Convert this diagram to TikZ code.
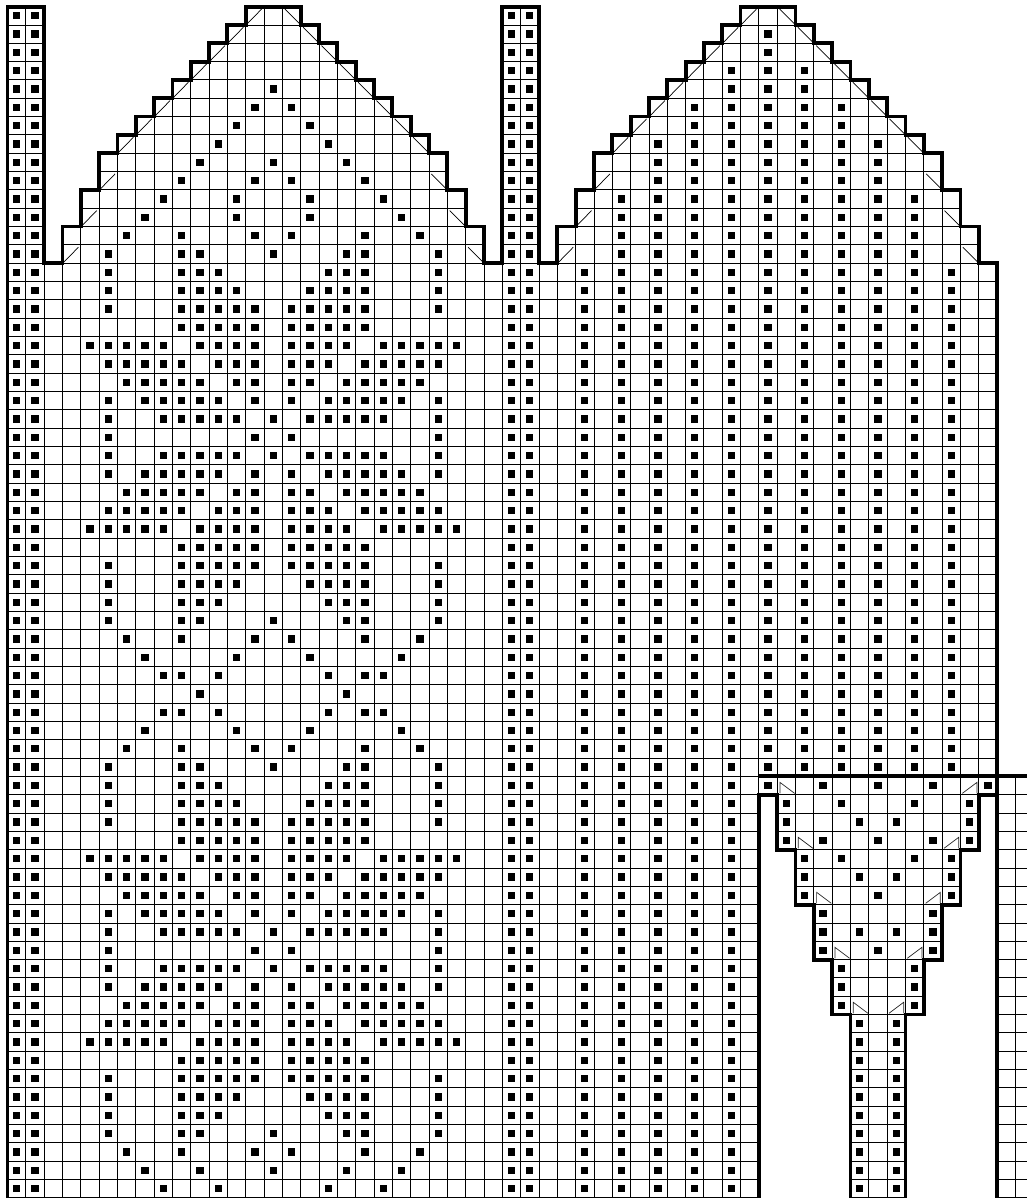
\documentclass[tikz,border=0pt]{standalone}
\usepackage{tikz}

\def\upperedge{(0,65.1) -- (0,0) -- (2,0) -- (2,14) -- (3,14) -- (3,12) -- (4,12) -- (4,10) -- (5,10) -- (5,8) -- (6,8) -- (6,7) -- (7,7) -- (7,6) -- (8,6) -- (8,5) -- (9,5) -- (9,4) -- (10,4) -- (10,3) -- (11,3) -- (11,2) -- (12,2) -- (12,1) -- (13,1) -- (13,0) -- (16,0) -- (16,1) -- (17,1) -- (17,2) -- (18,2) -- (18,3) -- (19,3) -- (19,4) -- (20,4) -- (20,5) -- (21,5) -- (21,6) -- (22,6) -- (22,7) -- (23,7) -- (23,8) -- (24,8) -- (24,10) -- (25,10) -- (25,12) -- (26,12) -- (26,14) -- (27,14) -- (27,0) -- (29,0) -- (29,14) -- (30,14) -- (30,12) -- (31,12) -- (31,10) -- (32,10) -- (32,8) -- (33,8) -- (33,7) -- (34,7) -- (34,6) -- (35,6) -- (35,5) -- (36,5) -- (36,4) -- (37,4) -- (37,3) -- (38,3) -- (38,2) -- (39,2) -- (39,1) -- (40,1) -- (40,0) -- (43,0) -- (43,1) -- (44,1) -- (44,2) -- (45,2) -- (45,3) -- (46,3) -- (46,4) -- (47,4) -- (47,5) -- (48,5) -- (48,6) -- (49,6) -- (49,7) -- (50,7) -- (50,8) -- (51,8) -- (51,10) -- (52,10) -- (52,12) -- (53,12) -- (53,14) -- (54,14) -- (54,42)}
\def\thumbright{(54,43) -- (53,43) -- (53,46) -- (52,46) -- (52,49) -- (51,49) -- (51,52) -- (50,52) -- (50,55) -- (49,55) -- (49,65.1)}

\begin{document}
\begin{tikzpicture}[
                x=0.5cm, y=-0.5cm,
                gridline/.style={line width=0.65pt},
                outline/.style={line width=3pt},
                stitch/.style={fill=black},
                slant/.style={line width=0.55pt},
                hook/.style={line width=0.55pt, draw=black!85}
            ]
            \useasboundingbox (-0.409,-0.36) rectangle (55.62,65.01);
            % chart squares
            \begin{scope}
                \clip \upperedge -- (55.7,42) -- (55.7,65.1) -- (54,65.1) -- (54,43) -- (53,43) -- (53,46) -- (52,46) -- (52,49) -- (51,49) -- (51,52) -- (50,52) -- (50,55) -- (49,55) -- (49,65.1) -- (46,65.1) -- (46,55) -- (45,55) -- (45,52) -- (44,52) -- (44,49) -- (43,49) -- (43,46) -- (42,46) -- (42,43) -- (41,43) -- (41,65.1) -- cycle;
                \foreach \c in {0,...,55} {\draw[gridline] (\c,0) -- (\c,65.1);}
                \foreach \r in {0,...,65} {\draw[gridline] (0,\r) -- (55.7,\r);}
            \end{scope}
            % edges
            \draw[outline] \upperedge -- (54,65.1);
            \draw[outline] \thumbright;
            \draw[outline] (41,65.1) -- (41,43) -- (42,43) -- (42,46) -- (43,46) -- (43,49) -- (44,49) -- (44,52) -- (45,52) -- (45,55) -- (46,55) -- (46,65.1);
            \draw[outline] (41,42) -- (55.7,42);
            % decreases on the two tops
            \foreach \off in {0,27} {
                \foreach \c/\r in {13/0,12/1,11/2,10/3,9/4,8/5,7/6,6/7,5/9,4/11,3/13} {
                    \draw[slant] (\off+\c+0.05,\r+0.97) -- (\off+\c+0.87,\r+0.13);
                    \draw[slant] (\off+28-\c+0.13,\r+0.13) -- (\off+28-\c+0.97,\r+0.97);
                }
            }
            % increases on the thumb
            \foreach \c/\r in {42/42,43/45,44/48,45/51,46/54} {
                \draw[hook] (\c+0.15,\r+0.93) -- (\c+0.15,\r+0.33) -- (\c+0.95,\r+0.93);
                \draw[hook] (94-\c+0.1,\r+0.93) -- (94-\c+0.9,\r+0.33) -- (94-\c+0.9,\r+0.93);
            }
            % side stripes
            \foreach \c in {0,1,27,28} {
                \foreach \r in {0,...,64} {\fill[stitch] (\c+0.3,\r+0.3) rectangle +(0.4,0.4);}
            }
            % stripes of the plain hand
            \foreach \c/\first/\last in {31/14/64,33/10/64,35/7/64,37/5/64,39/3/64,41/1/42,43/3/41,45/5/41,47/7/41,49/10/41,51/14/41} {
                \foreach \r in {\first,...,\last} {\fill[stitch] (\c+0.3,\r+0.3) rectangle +(0.4,0.4);}
            }
            % motif of the patterned hand
            \foreach \rows/\cols in {
                {4}/{14}, {5}/{13,15}, {6}/{12,16}, {7}/{11,17},
                {8}/{10,14,18}, {9}/{9,13,15,19}, {10}/{8,12,16,20},
                {11,35,39}/{7,12,16,21}, {12,34,40,62}/{6,9,13,15,19,22},
                {13,33,41,61}/{5,9,10,14,18,19,23},
                {14,32,42,60}/{5,9,10,11,17,18,19,23},
                {15,31,43,59}/{5,9,10,11,12,16,17,18,19,23},
                {16,30,44,58}/{5,9,10,11,12,13,15,16,17,18,19,23},
                {17,29,45,57}/{9,10,11,12,13,15,16,17,18,19},
                {18,28,46,56}/{4,5,6,7,8,10,11,12,13,15,16,17,18,20,21,22,23,24},
                {19,27,47,55}/{5,6,7,8,9,11,12,13,15,16,17,19,20,21,22,23},
                {20,26,48,54}/{6,7,8,9,10,12,13,15,16,18,19,20,21,22},
                {21,25,49,53}/{5,7,8,9,10,11,13,15,17,18,19,20,21,23},
                {22,24,50,52}/{5,8,9,10,11,12,14,16,17,18,19,20,23},
                {23,51}/{5,13,15,23},
                {36,38}/{8,9,11,17,19,20}, {37}/{10,18},
                {63}/{7,10,14,18,21}, {64}/{8,11,17,20}} {
                \foreach \r in \rows {
                    \foreach \c in \cols {\fill[stitch] (\c+0.3,\r+0.3) rectangle +(0.4,0.4);}
                }
            }
            % motif of the thumb
            \foreach \r/\cols in {
                42/{44,47,50,53}, 43/{42,45,49,52}, 44/{42,46,48,52}, 45/{42,44,47,50,52},
                46/{43,45,49,51}, 47/{43,46,48,51}, 48/{43,47,51}, 49/{44,50},
                50/{44,46,48,50}, 51/{44,47,50}, 52/{45,49}, 53/{45,49}, 54/{45,49},
                55/{46,48}, 56/{46,48}, 57/{46,48}, 58/{46,48}, 59/{46,48},
                60/{46,48}, 61/{46,48}, 62/{46,48}, 63/{46,48}, 64/{46,48}} {
                \foreach \c in \cols {\fill[stitch] (\c+0.3,\r+0.3) rectangle +(0.4,0.4);}
            }
        \end{tikzpicture}
\end{document}
